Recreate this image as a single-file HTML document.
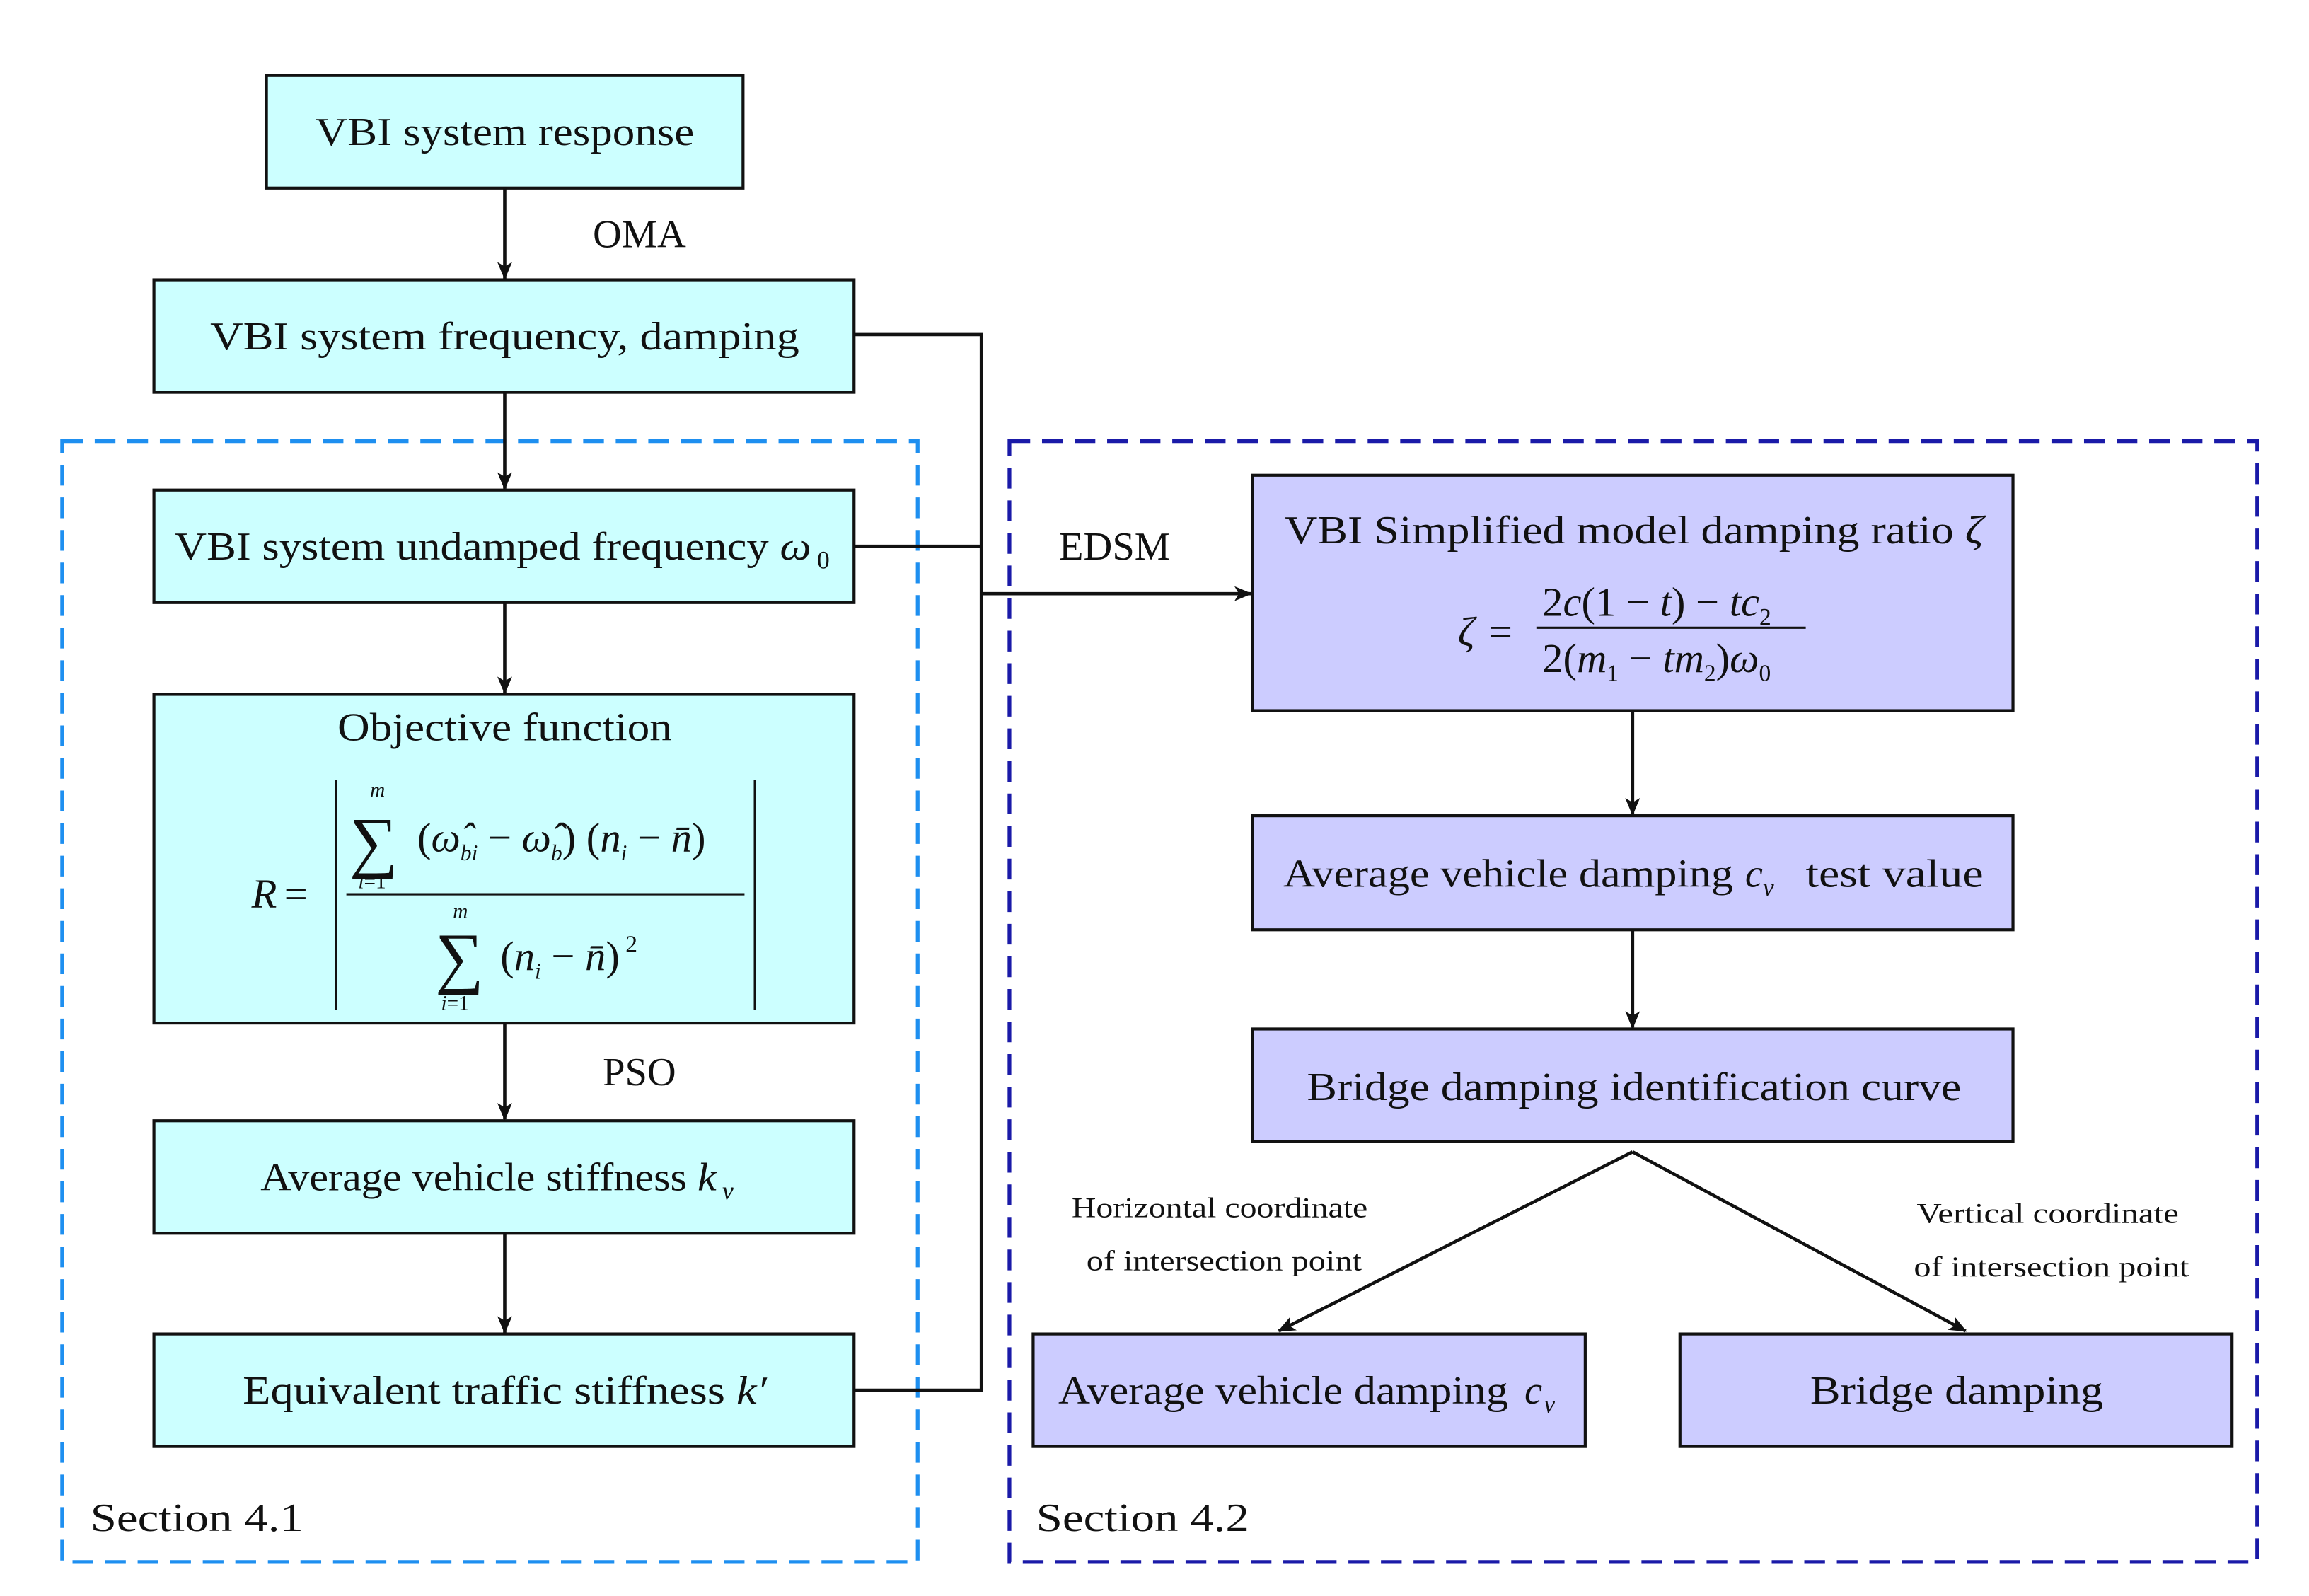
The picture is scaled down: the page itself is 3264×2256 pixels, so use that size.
<!DOCTYPE html>
<html><head><meta charset="utf-8"><style>
html,body{margin:0;padding:0;background:#fff;}
svg{display:block;}
text{font-family:"Liberation Serif",serif;fill:#111;}
.t{font-size:27px;text-anchor:middle;}
.i{font-style:italic;}
</style></head><body>
<svg width="3264" height="2256" viewBox="0 0 1560 1078" preserveAspectRatio="none" xmlns="http://www.w3.org/2000/svg">
<defs><marker id="a" viewBox="0 0 12 10" refX="11" refY="5" markerWidth="12" markerHeight="10" markerUnits="userSpaceOnUse" orient="auto"><path d="M0,0 L12,5 L0,10 L3,5 z" fill="#111"/></marker></defs>
<rect x="42" y="298" width="578" height="757" fill="none" stroke="#1e8ff0" stroke-width="2.5" stroke-dasharray="14,8"/>
<rect x="682" y="298" width="843" height="757" fill="none" stroke="#1a1aa8" stroke-width="2.5" stroke-dasharray="14,8"/>
<g stroke="#111" stroke-width="2" fill="#ccffff">
<rect x="180" y="51" width="322" height="76"/>
<rect x="104" y="189" width="473" height="76"/>
<rect x="104" y="331" width="473" height="76"/>
<rect x="104" y="469" width="473" height="222"/>
<rect x="104" y="757" width="473" height="76"/>
<rect x="104" y="901" width="473" height="76"/>
</g>
<g stroke="#111" stroke-width="2" fill="#ccccff">
<rect x="846" y="321" width="514" height="159"/>
<rect x="846" y="551" width="514" height="77"/>
<rect x="846" y="695" width="514" height="76"/>
<rect x="698" y="901" width="373" height="76"/>
<rect x="1135" y="901" width="373" height="76"/>
</g>
<g stroke="#111" stroke-width="2.2" fill="none">
<line x1="341" y1="127" x2="341" y2="188" marker-end="url(#a)"/>
<line x1="341" y1="265" x2="341" y2="330" marker-end="url(#a)"/>
<line x1="341" y1="407" x2="341" y2="468" marker-end="url(#a)"/>
<line x1="341" y1="691" x2="341" y2="756" marker-end="url(#a)"/>
<line x1="341" y1="833" x2="341" y2="900" marker-end="url(#a)"/>
<polyline points="577,226 663,226 663,939 577,939"/>
<line x1="577" y1="369" x2="663" y2="369"/>
<line x1="663" y1="401" x2="845" y2="401" marker-end="url(#a)"/>
<line x1="1103" y1="480" x2="1103" y2="550" marker-end="url(#a)"/>
<line x1="1103" y1="628" x2="1103" y2="694" marker-end="url(#a)"/>
<line x1="1103" y1="778" x2="864" y2="899" marker-end="url(#a)"/>
<line x1="1103" y1="778" x2="1328" y2="899" marker-end="url(#a)"/>
<line x1="234" y1="604" x2="503" y2="604" stroke-width="1.5"/>
<line x1="227" y1="527" x2="227" y2="682" stroke-width="1.5"/>
<line x1="510" y1="527" x2="510" y2="682" stroke-width="1.5"/>
<line x1="1038" y1="424" x2="1220" y2="424" stroke-width="1.5"/>
</g>
<text class="t" x="341" y="98" textLength="256" lengthAdjust="spacingAndGlyphs">VBI system response</text>
<text class="t" x="432" y="167">OMA</text>
<text class="t" x="341" y="236" textLength="398" lengthAdjust="spacingAndGlyphs">VBI system frequency, damping</text>
<text x="118" y="378" font-size="27" textLength="430" lengthAdjust="spacingAndGlyphs">VBI system undamped frequency <tspan class="i">ω</tspan></text>
<text x="552" y="384" font-size="17">0</text>
<text class="t" x="341" y="500" textLength="226" lengthAdjust="spacingAndGlyphs">Objective function</text>
<text x="170" y="613" font-size="28" class="i">R</text><text x="192" y="613" font-size="28">=</text>
<text x="236" y="584" font-size="46">∑</text>
<text x="250" y="538" font-size="14" class="i">m</text>
<text x="242" y="600" font-size="14"><tspan class="i">i</tspan>=1</text>
<text x="282" y="575" font-size="28">(<tspan class="i">ω̂</tspan><tspan font-size="15" class="i" dy="6">bi</tspan><tspan dy="-6"> − </tspan><tspan class="i">ω̂</tspan><tspan font-size="15" class="i" dy="6">b</tspan><tspan dy="-6">) (</tspan><tspan class="i">n</tspan><tspan font-size="15" class="i" dy="6">i</tspan><tspan dy="-6"> − </tspan><tspan class="i">n̄</tspan>)</text>
<text x="294" y="662" font-size="46">∑</text>
<text x="306" y="620" font-size="14" class="i">m</text>
<text x="298" y="682" font-size="14"><tspan class="i">i</tspan>=1</text>
<text x="338" y="655" font-size="28">(<tspan class="i">n</tspan><tspan font-size="15" class="i" dy="6">i</tspan><tspan dy="-6"> − </tspan><tspan class="i">n̄</tspan>)<tspan font-size="16" dy="-12"> 2</tspan></text>
<text class="t" x="432" y="733">PSO</text>
<text x="176" y="804" font-size="27" textLength="308" lengthAdjust="spacingAndGlyphs">Average vehicle stiffness <tspan class="i">k</tspan></text>
<text x="488" y="810" font-size="17" class="i">v</text>
<text class="t" x="341" y="948" textLength="354" lengthAdjust="spacingAndGlyphs">Equivalent traffic stiffness <tspan class="i">k′</tspan></text>
<text x="61" y="1034" font-size="27" textLength="144" lengthAdjust="spacingAndGlyphs">Section 4.1</text>
<text x="700" y="1034" font-size="27" textLength="144" lengthAdjust="spacingAndGlyphs">Section 4.2</text>
<text class="t" x="753" y="378">EDSM</text>
<text class="t" x="1104" y="367" textLength="472" lengthAdjust="spacingAndGlyphs">VBI Simplified model damping ratio <tspan class="i">ζ</tspan></text>
<text x="985" y="436" font-size="28" class="i">ζ</text><text x="1006" y="436" font-size="28">=</text>
<text x="1042" y="416" font-size="28">2<tspan class="i">c</tspan>(1 − <tspan class="i">t</tspan>) − <tspan class="i">tc</tspan><tspan font-size="16" dy="6">2</tspan></text>
<text x="1042" y="454" font-size="28">2(<tspan class="i">m</tspan><tspan font-size="16" dy="6">1</tspan><tspan dy="-6"> − </tspan><tspan class="i">tm</tspan><tspan font-size="16" dy="6">2</tspan><tspan dy="-6">)</tspan><tspan class="i">ω</tspan><tspan font-size="16" dy="6">0</tspan></text>
<text x="867" y="599" font-size="27" textLength="304" lengthAdjust="spacingAndGlyphs">Average vehicle damping</text>
<text x="1179" y="599" font-size="27" class="i">c</text>
<text x="1191" y="605" font-size="17" class="i">v</text>
<text x="1220" y="599" font-size="27" textLength="120" lengthAdjust="spacingAndGlyphs">test value</text>
<text class="t" x="1104" y="743" textLength="442" lengthAdjust="spacingAndGlyphs">Bridge damping identification curve</text>
<text x="724" y="822" font-size="19" textLength="200" lengthAdjust="spacingAndGlyphs">Horizontal coordinate</text>
<text x="734" y="858" font-size="19" textLength="186" lengthAdjust="spacingAndGlyphs">of intersection point</text>
<text x="1295" y="826" font-size="19" textLength="177" lengthAdjust="spacingAndGlyphs">Vertical coordinate</text>
<text x="1293" y="862" font-size="19" textLength="186" lengthAdjust="spacingAndGlyphs">of intersection point</text>
<text x="715" y="948" font-size="27" textLength="304" lengthAdjust="spacingAndGlyphs">Average vehicle damping</text>
<text x="1030" y="948" font-size="27" class="i">c</text>
<text x="1043" y="954" font-size="17" class="i">v</text>
<text class="t" x="1322" y="948" textLength="198" lengthAdjust="spacingAndGlyphs">Bridge damping</text>
</svg>
</body></html>
